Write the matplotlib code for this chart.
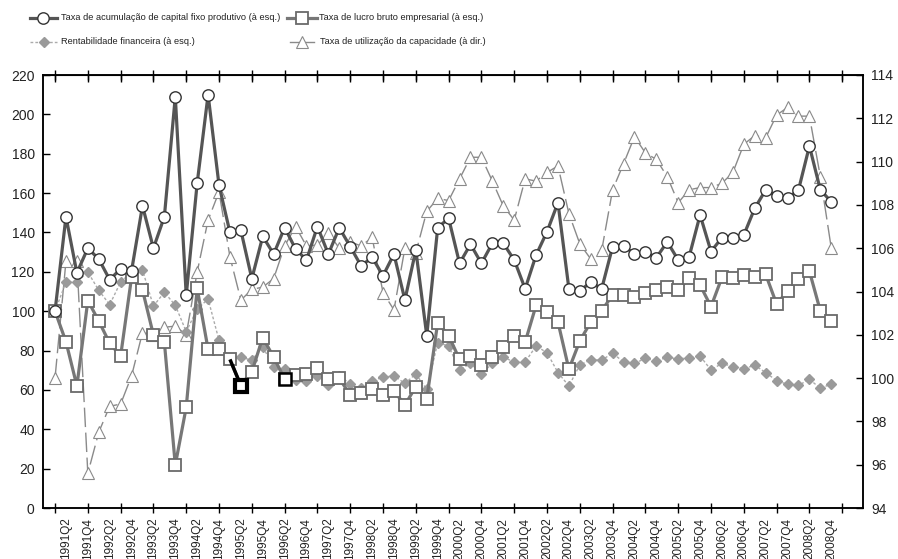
import matplotlib
matplotlib.use("Agg")
import matplotlib.pyplot as plt
from matplotlib.lines import Line2D
import numpy as np

plt.rcParams['font.family'] = ['Liberation Sans', 'DejaVu Sans']

# quarters 1991Q1 .. 2008Q4
years = list(range(1991, 2009))
quarters = [f"{y}Q{q}" for y in years for q in range(1, 5)]

# Taxa de acumulação de capital fixo produtivo (à esq.)
acumulacao = [100, 148, 119.5, 132, 126.5, 116, 121.5, 120.5, 153.5, 132,
              148, 209, 108, 165, 210, 164, 140, 141, 116.5, 138,
              129, 142.5, 131.6, 126, 143, 129, 142.4, 132.8, 123, 127.4,
              118, 129, 105.7, 131, 87.6, 142.4, 147.2, 124.3, 134, 124.3,
              134.5, 134.5, 126, 111.4, 128.5, 140.4, 155.1, 111.4, 110.4, 114.7,
              111.4, 132.8, 133.3, 129, 130, 127.2, 135.2, 126, 127.7, 148.9,
              130.3, 137.4, 137.4, 138.7, 152.3, 161.6, 158.6, 157.4, 161.6, 183.9,
              161.6, 155.6]

# Taxa de lucro bruto empresarial (à esq.)
lucro = [100, 84.5, 62, 105.4, 95, 83.7, 77.2, 117.2, 110.8, 87.9,
         84.3, 21.8, 51.2, 111.6, 80.6, 80.6, 75.5, 62.2, 69.2, 86.6,
         76.6, 65.5, 67.6, 68, 71.3, 65.4, 65.9, 57.4, 58.3, 60.5,
         57.4, 59.5, 52.3, 61.7, 55.4, 94.2, 87.6, 75.5, 77.4, 72.8,
         76.9, 82, 87.6, 84.3, 103, 99.4, 94.5, 70.5, 84.9, 94.5,
         100.3, 108.2, 108.2, 107, 109.4, 110.6, 112.3, 110.6, 116.9, 113.3,
         102.3, 117.2, 116.7, 118.2, 117.2, 118.7, 103.6, 110.3, 116.2, 120.3,
         100.1, 95]

# Rentabilidade financeira (à esq.)
rentab = [100, 114.8, 114.8, 119.9, 110.6, 103.3, 114.8, 119.9, 120.9, 102.6,
          109.6, 103, 89.6, 101, 106.2, 85.2, 75.3, 76.6, 75.1, 82,
          71.4, 70.5, 65.2, 64.6, 67.2, 62.5, 67.2, 63, 60.8, 64.7,
          66.4, 67.2, 63.3, 68.1, 60.3, 84, 82.3, 70.1, 73.5, 68.1,
          73.5, 76.6, 74.2, 74.2, 82.3, 78.9, 68.8, 62, 72.7, 75.2,
          75.2, 78.6, 74.2, 73.5, 76, 74.7, 76.6, 75.7, 76.4, 77.2,
          70.1, 73.5, 71.8, 70.8, 72.5, 68.8, 64.7, 62.8, 62.3, 65.4,
          60.8, 63]

# Taxa de utilização da capacidade (à dir.)
utilizacao = [100, 105.4, 105.4, 95.6, 97.5, 98.7, 98.8, 100.1, 102.1, 102,
              102.35, 102.4, 102, 104.9, 107.3, 108.6, 105.6, 103.6, 104.1, 104.2,
              104.6, 106.1, 107, 106.1, 106.15, 106.7, 106, 106.3, 106.1, 106.5,
              103.95, 103.15, 106, 105.8, 107.7, 108.3, 108.2, 109.2, 110.2, 110.2,
              109.1, 107.95, 107.3, 109.2, 109.1, 109.5, 109.8, 107.6, 106.2, 105.5,
              105.9, 108.7, 109.9, 111.15, 110.4, 110.1, 109.3, 108.1, 108.7, 108.8,
              108.8, 109, 109.5, 110.8, 111.2, 111.1, 112.15, 112.5, 112.1, 112.1,
              109.3, 106]

labels = ["Taxa de acumulação de capital fixo produtivo (à esq.)",
          "Taxa de lucro bruto empresarial (à esq.)",
          "Rentabilidade financeira (à esq.)",
          "Taxa de utilização da capacidade (à dir.)"]

x = np.arange(len(quarters))

# styles
sty_acum = dict(color='#555555', lw=2.3, marker='o', ms=8.2, mfc='white', mec='#333333', mew=1.0)
sty_lucro = dict(color='#777777', lw=2.3, marker='s', ms=8, mfc='white', mec='#6a6a6a', mew=1.3)
sty_rent = dict(color='#ababab', lw=1.0, ls=(0, (2, 1.5)), marker='D', ms=5, mfc='#9a9a9a', mec='#9a9a9a')
sty_util = dict(color='#8a8a8a', lw=1.0, ls=(0, (14, 4)), marker='^', ms=8.5, mfc='white', mec='#8a8a8a', mew=0.8)

fig = plt.figure(figsize=(8.98, 5.59), dpi=100)
W, H = 898, 559
ax = fig.add_axes([43 / W, 1 - 508 / H, (863 - 43) / W, (508 - 75) / H])
ax2 = ax.twinx()
ax.set_zorder(ax2.get_zorder() + 1)
ax.patch.set_visible(False)

ax2.plot(x, utilizacao, **sty_util)
ax.plot(x, rentab, zorder=2, **sty_rent)
ax.plot(x, lucro, zorder=3, **sty_lucro)
# highlighted segment / points in the original
ax.plot([16, 17, 17.5], [lucro[16], lucro[17], (lucro[17] + lucro[18]) / 2],
        color='black', lw=2.5, zorder=3.5, solid_capstyle='butt')
ax.plot([17], [lucro[17]], ls='none', marker='s', ms=8, mfc='white', mec='black', mew=3, zorder=3.6)
ax.plot([21], [lucro[21]], ls='none', marker='s', ms=8, mfc='white', mec='black', mew=1.8, zorder=3.6)
ax.plot(x, acumulacao, zorder=4, **sty_acum)

ax.set_xlim(-1.1, 73.9)
ax.set_ylim(0, 220)
ax2.set_ylim(94, 114)
ax.set_yticks(range(0, 221, 20))
ax2.set_yticks(range(94, 115, 2))

# labels every 2 quarters (major, no mark), tick marks every 3 quarters (minor)
ax.xaxis.remove_overlapping_locs = False
ax.set_xticks(x[1::2])
ax.set_xticklabels(quarters[1::2], rotation=90, fontsize=8.5, color='#222222')
ax.set_xticks(range(0, 73, 3), minor=True)
ax.tick_params(axis='x', which='major', length=0, pad=7)
ax.tick_params(axis='x', which='minor', direction='inout', length=7, width=1, top=True)
ax.tick_params(axis='y', direction='in', length=5, width=1, labelsize=10, labelcolor='#222222', pad=6)
ax2.tick_params(axis='y', direction='in', length=5, width=1, labelsize=10, labelcolor='#222222', pad=6)

# top ticks pointing inward
sec = ax.secondary_xaxis('top')
sec.set_xticks(range(0, 73, 3))
sec.set_xticklabels([])
sec.tick_params(direction='in', length=5, width=1)

for a in (ax, ax2):
    for s in a.spines.values():
        s.set_linewidth(1.1)
        s.set_color('black')

# legend drawn in pixel space above the axes
lg = fig.add_axes([0, 0, 1, 1], zorder=10)
lg.set_xlim(0, W)
lg.set_ylim(H, 0)
lg.axis('off')
entries = [
    (sty_acum, 30, 57, 43, 18, 61, labels[0]),
    (sty_lucro, 287, 317, 302, 18, 319, labels[1]),
    (sty_rent, 30, 57, 44, 42, 61, labels[2]),
    (sty_util, 290, 314, 302, 42, 320, labels[3]),
]
for st, x0, x1, xm, yy, xt, txt in entries:
    line_kw = {k: v for k, v in st.items() if k in ('color', 'lw', 'ls')}
    if st is sty_util:
        line_kw['ls'] = '-'
    lg.add_line(Line2D([x0, x1], [yy, yy], **line_kw))
    lg.add_line(Line2D([xm], [yy], ls='none', marker=st['marker'], ms=st['ms'],
                       mfc=st['mfc'], mec=st['mec'], mew=st.get('mew', 1)))
    lg.text(xt, yy, txt, fontsize=6.7, va='center', ha='left', color='#222222')

fig.savefig("out.png", dpi=100)
